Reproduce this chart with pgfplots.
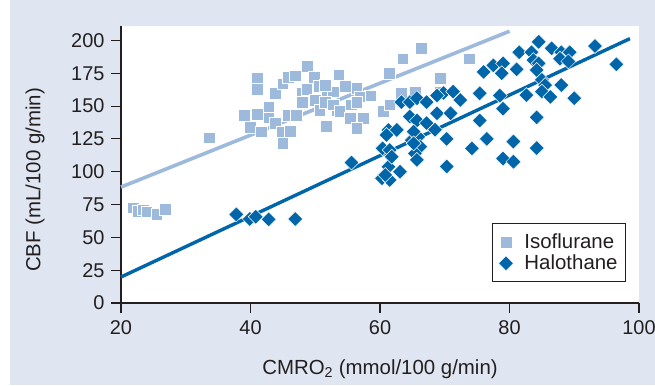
\documentclass[border=0pt]{standalone}
\usepackage{fontspec}
\setmainfont{Liberation Sans}
\usepackage{pgfplots}
\pgfplotsset{compat=1.18}
\definecolor{bg}{HTML}{DFE6F1}
\definecolor{iso}{HTML}{9DB9DC}
\definecolor{hal}{HTML}{0066A9}
\definecolor{ax}{HTML}{231F20}
\begin{document}
\begin{tikzpicture}[x=1bp,y=1bp]
\path[use as bounding box] (0,0) rectangle (655,385);
\fill[bg] (10,0) rectangle (655,385);
\begin{axis}[
  at={(121bp,82bp)}, anchor=south west,
  scale only axis, width=518bp, height=277bp,
  xmin=20, xmax=100, ymin=0, ymax=211,
  axis x line*=bottom, axis y line*=left,
  axis line style={ax, line width=1.8bp, -},
  xtick={20,40,...,100}, ytick={0,25,...,200},
  tick align=outside, major tick length=10bp,
  tick style={ax, line width=1.1bp},
  axis background/.style={fill=white},
  clip=false,
  /pgf/number format/assume math mode=true,
  tick label style={font=\fontsize{20}{23}\selectfont, text=ax},
  yticklabel style={xshift=-3bp},
  xticklabel style={yshift=-4bp},
  label style={font=\fontsize{20.5}{23}\selectfont, text=ax},
  xlabel={CMRO\textsubscript{2} (mmol/100 g/min)},
  ylabel={CBF (mL/100 g/min)},
  xlabel style={at={(axis description cs:0.5,-0.238)}, anchor=center},
  ylabel style={at={(axis description cs:-0.166,0.444)}, anchor=center},
  legend style={at={(0.716,0.0758)}, anchor=south west, draw=ax, line width=1.2bp,
    font=\fontsize{20.5}{23}\selectfont, text=ax, inner xsep=6bp, inner ysep=8bp,
    row sep=1bp, column sep=9bp, fill=white},
  legend cell align=left,
]
\addplot[iso, line width=3.6bp, forget plot] coordinates {(20,88.3) (80,207)};
\addplot[hal, line width=3.4bp, forget plot] coordinates {(20,19.8) (98.6,201.4)};
\addplot[only marks, mark=square*, mark size=5.8bp,
  mark options={fill=iso, draw=white, line width=0.5bp}] table {
x y
21.9 72.5
22.6 70
23.4 71
24.0 69.5
25.5 67.5
26.8 71.5
33.6 126
41.0 171
41.0 163
39.0 143
41.0 144
40.0 134
41.7 130.5
42.8 149.5
42.8 141
43.8 160
45.0 167
45.8 172
46.9 173
48.8 180.5
49.8 172
50.6 165
53.6 174
43.8 137
44.8 130.5
45.8 143
47.1 143
46.1 131
45.0 121.6
47.9 160
48.7 163
48.0 153
50.0 154.6
50.7 147
51.7 134.8
51.8 157
52.8 161
53.3 147
66.4 194
63.5 186
61.4 175
51.5 166
54.6 165
56.4 163.5
58.5 158
56.9 157
51.5 153
52.8 151
53.8 146
55.6 151
56.4 153
55.4 140.6
57.4 140.6
56.4 133
60.5 146
61.5 151
63.3 160
65.4 161
69.3 171
69.3 161
73.8 186
};
\addlegendentry{Isoflurane}
\addplot[only marks, mark=square*, mark size=5.3bp,
  mark options={fill=hal, draw=white, line width=0.5bp, rotate=45}] table {
x y
37.8 67.5
39.9 64
40.8 65.7
42.8 63.7
46.9 64
55.6 107
60.4 117.8
61.5 116.5
61.3 131.8
62.6 131.8
60.3 95
61.5 93.7
61.3 103.8
63.1 100
61.8 111.4
63.3 153
64.6 153
65.7 156
67.2 153
64.6 142
65.7 139
67.2 137
68.8 144.5
64.9 124
65.9 126.6
66.2 119
65.4 114
65.7 109
68.5 132
70.3 125
70.3 104
69.8 160
71.3 161
72.4 154.6
70.9 144.5
74.2 117.8
75.4 159.7
75.4 139
76.5 125
76.0 176
77.5 181
68.8 158
65.2 130.5
61.0 128
65.2 121.6
60.8 97.5
78.5 158
79.0 148
79.0 110
84.5 199
81.5 191
83.4 191
86.5 194
88.0 191
89.3 191
93.2 195.7
83.7 185
84.5 182.5
87.8 186
89.1 184
79.0 182.5
78.8 175
81.1 178
84.2 177.5
96.5 181.8
85.0 170
85.5 166
88.0 166
82.6 158.4
85.0 161
86.3 157
90.0 156
84.2 141.4
80.6 123
84.2 118
80.6 107.6
};
\addlegendentry{Halothane}
\end{axis}
\end{tikzpicture}
\end{document}
